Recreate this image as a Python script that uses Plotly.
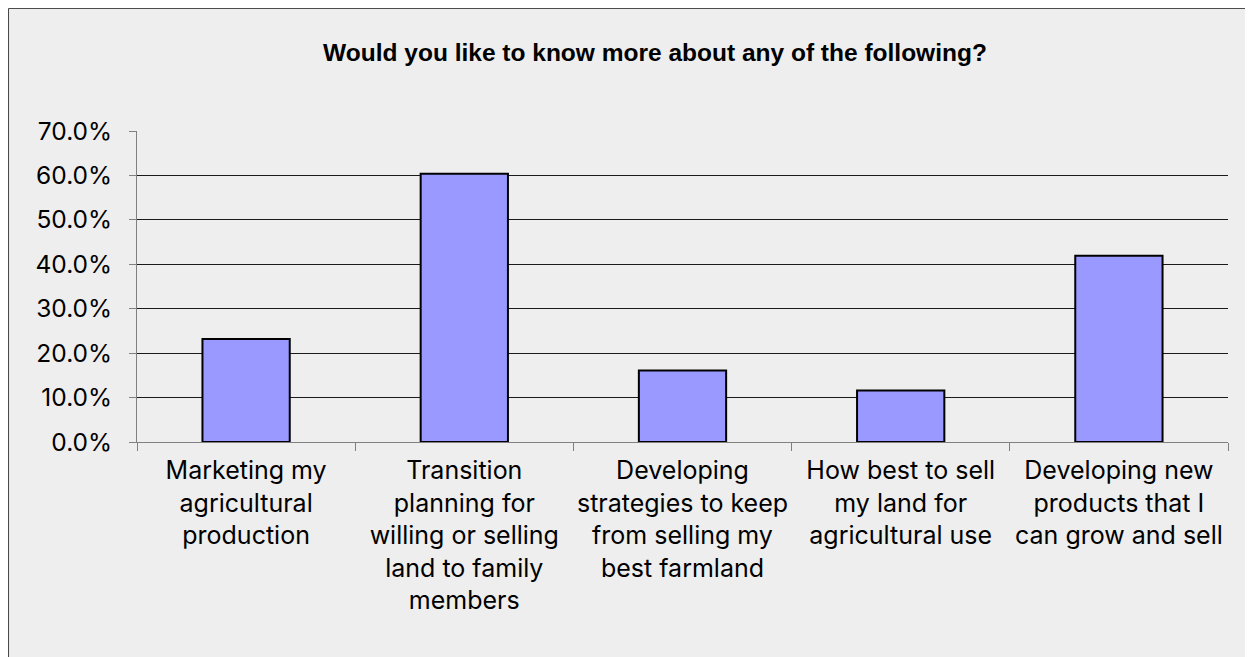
import plotly.graph_objects as go

categories = [
    "Marketing my<br>agricultural<br>production",
    "Transition<br>planning for<br>willing or selling<br>land to family<br>members",
    "Developing<br>strategies to keep<br>from selling my<br>best farmland",
    "How best to sell<br>my land for<br>agricultural use",
    "Developing new<br>products that I<br>can grow and sell",
]
values = [0.232, 0.604, 0.161, 0.116, 0.419]
tick_vals = [0, 0.1, 0.2, 0.3, 0.4, 0.5, 0.6, 0.7]
tick_text = ["0.0%", "10.0%", "20.0%", "30.0%", "40.0%", "50.0%", "60.0%", "70.0%"]
title_text = "Would you like to know more about any of the following?"

W, H = 1253, 657
ml, mr, mt, mb = 129, 33, 123, 223

fig = go.Figure(
    go.Bar(
        x=categories,
        y=values,
        marker=dict(color="#9999FF", line=dict(color="#000000", width=2)),
        width=0.4,
    )
)

fig.add_shape(
    type="rect", xref="paper", yref="paper", layer="below",
    x0=-ml / (W - ml - mr) + 0.0005, x1=1 + mr / (W - ml - mr),
    y0=-mb / (H - mt - mb), y1=1 + mt / (H - mt - mb) - 0.0015,
    fillcolor="#eeeeee", line=dict(color="#444444", width=1),
)

fig.update_layout(
    width=W, height=H,
    margin=dict(l=ml, r=mr, t=mt, b=mb, autoexpand=False),
    paper_bgcolor="#eeeeee",
    plot_bgcolor="rgba(0,0,0,0)",
    font=dict(family="Inter, Roboto, Arial", color="#000000"),
    title=dict(
        text="<b>" + title_text + "</b>",
        x=655 / W - 8 / W, xref="container", xanchor="center",
        y=1 - 44 / H, yref="container", yanchor="middle",
        font=dict(family="Liberation Sans, Arial", size=24.5, color="#000000"),
    ),
    showlegend=False,
    bargap=0.6,
)

fig.update_xaxes(
    showline=True, linecolor="#808080", linewidth=1,
    ticks="outside", ticklen=8, tickcolor="#808080",
    tickson="boundaries",
    tickangle=0, automargin=False,
    tickfont=dict(size=25, color="#000000"),
    ticklabelstandoff=6,
    showgrid=False,
)
fig.update_yaxes(
    range=[0, 0.7],
    tickvals=tick_vals, ticktext=tick_text,
    showline=True, linecolor="#808080", linewidth=1,
    ticks="outside", ticklen=7, tickcolor="#808080",
    showgrid=True, gridcolor="#1a1a1a", gridwidth=1,
    zeroline=False, automargin=False,
    tickfont=dict(size=24.5, color="#000000"),
    ticklabelstandoff=12,
)

fig.write_html("out.html")
